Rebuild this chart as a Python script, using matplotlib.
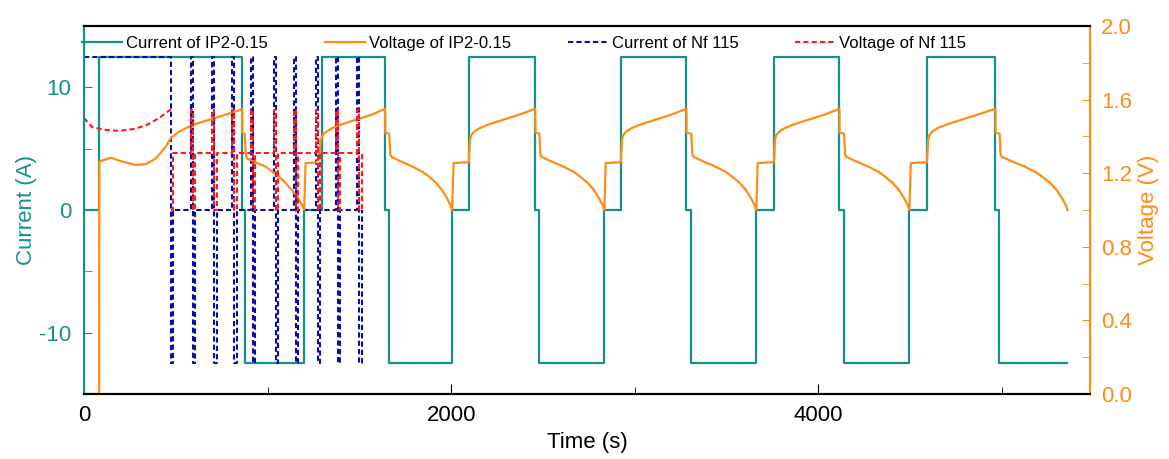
import matplotlib
matplotlib.use("Agg")
import matplotlib.pyplot as plt
from matplotlib.ticker import MultipleLocator, FormatStrFormatter

plt.rcParams['font.family'] = ['Liberation Sans', 'DejaVu Sans']
plt.rcParams['axes.unicode_minus'] = False

# IP2-0.15 current (step changes: time s, current A)
ip2_i_t = [0, 82, 861, 877, 1199, 1295, 1640, 1662, 2005, 2098, 2458, 2480, 2834,
           2926, 3281, 3308, 3662, 3760, 4115, 4140, 4496, 4594, 4965, 4987, 5357]
ip2_i = [0, 12.5, 0, -12.5, 0, 12.5, 0, -12.5, 0, 12.5, 0, -12.5, 0,
         12.5, 0, -12.5, 0, 12.5, 0, -12.5, 0, 12.5, 0, -12.5, -12.5]

# IP2-0.15 voltage (time s, voltage V), one line per charge / discharge part
ip2_v_t = [0, 82, 83, 145, 209, 281, 336, 391, 445, 472, 518, 590, 736, 861,
           862, 875, 881, 887, 990, 1063, 1099, 1135, 1163, 1186, 1199,
           1207, 1265, 1280, 1289, 1299, 1305, 1323, 1350, 1404, 1477, 1568, 1640,
           1641, 1662, 1668, 1677, 1717, 1789, 1844, 1880, 1916, 1950, 1978, 1996, 2005,
           2013, 2096, 2102, 2108, 2126, 2153, 2207, 2280, 2371, 2458,
           2459, 2480, 2486, 2495, 2537, 2611, 2668, 2703, 2742, 2777, 2806, 2825, 2834,
           2842, 2924, 2930, 2936, 2954, 2981, 3035, 3108, 3199, 3281,
           3282, 3308, 3314, 3323, 3365, 3439, 3496, 3531, 3570, 3605, 3634, 3653, 3662,
           3670, 3758, 3764, 3770, 3788, 3815, 3869, 3942, 4033, 4115,
           4116, 4140, 4146, 4155, 4197, 4272, 4329, 4364, 4403, 4439, 4468, 4487, 4496,
           4504, 4592, 4598, 4604, 4622, 4649, 4703, 4776, 4867, 4965,
           4966, 4987, 4993, 5002, 5046, 5124, 5183, 5220, 5261, 5298, 5328, 5348, 5357]
ip2_v = [0, 0, 1.263, 1.284, 1.263, 1.245, 1.249, 1.28, 1.344, 1.39, 1.426, 1.462, 1.507, 1.547,
         1.42, 1.415, 1.30, 1.28, 1.235, 1.181, 1.145, 1.105, 1.07, 1.03, 1.0,
         1.255, 1.258, 1.28, 1.38, 1.405, 1.415, 1.426, 1.444, 1.466, 1.489, 1.518, 1.55,
         1.42, 1.415, 1.30, 1.288, 1.268, 1.236, 1.207, 1.181, 1.149, 1.109, 1.063, 1.027, 1.0,
         1.255, 1.26, 1.38, 1.405, 1.426, 1.444, 1.466, 1.489, 1.518, 1.55,
         1.42, 1.415, 1.30, 1.288, 1.268, 1.236, 1.207, 1.181, 1.149, 1.109, 1.063, 1.027, 1.0,
         1.255, 1.26, 1.38, 1.405, 1.426, 1.444, 1.466, 1.489, 1.518, 1.55,
         1.42, 1.415, 1.30, 1.288, 1.268, 1.236, 1.207, 1.181, 1.149, 1.109, 1.063, 1.027, 1.0,
         1.255, 1.26, 1.38, 1.405, 1.426, 1.444, 1.466, 1.489, 1.518, 1.55,
         1.42, 1.415, 1.30, 1.288, 1.268, 1.236, 1.207, 1.181, 1.149, 1.109, 1.063, 1.027, 1.0,
         1.255, 1.26, 1.38, 1.405, 1.426, 1.444, 1.466, 1.489, 1.518, 1.55,
         1.42, 1.415, 1.30, 1.288, 1.268, 1.236, 1.207, 1.181, 1.149, 1.109, 1.063, 1.027, 1.0]

# Nf 115 current (step changes: time s, current A)
nf_i_t = [0, 474, 486,
          583, 595, 607, 698, 710, 722, 807, 819, 831, 910, 922, 934,
          1035, 1047, 1059, 1144, 1156, 1168, 1264, 1276, 1288,
          1373, 1385, 1397, 1488, 1500, 1512, 1515]
nf_i = [12.5, -12.5, 0,
        12.5, -12.5, 0, 12.5, -12.5, 0, 12.5, -12.5, 0, 12.5, -12.5, 0,
        12.5, -12.5, 0, 12.5, -12.5, 0, 12.5, -12.5, 0,
        12.5, -12.5, 0, 12.5, -12.5, 0, 0]

# Nf 115 voltage: first charge curve, then step changes
nf_v0_t = [0, 44, 120, 191, 270, 338, 409, 463, 474]
nf_v0 = [1.50, 1.45, 1.435, 1.43, 1.44, 1.46, 1.50, 1.54, 1.545]
nf_v_t = [474, 486,
          583, 595, 607, 698, 710, 722, 807, 819, 831, 910, 922, 934,
          1035, 1047, 1059, 1144, 1156, 1168, 1264, 1276, 1288,
          1373, 1385, 1397, 1488, 1500, 1512, 1515]
nf_v = [1.00, 1.31,
        1.545, 1.00, 1.31, 1.545, 1.00, 1.31, 1.545, 1.00, 1.31, 1.545, 1.00, 1.31,
        1.545, 1.00, 1.31, 1.545, 1.00, 1.31, 1.545, 1.00, 1.31,
        1.545, 1.00, 1.31, 1.545, 1.00, 1.31, 1.31]

teal = '#15918b'
orange = '#ff8c14'
navy = '#0a0aa8'
red = '#ff1a1a'
dash = (0, (2.5, 1.5))

fig = plt.figure(figsize=(11.69, 4.59), dpi=100)
ax = fig.add_axes([0.0719, 0.1416, 0.8605, 0.8018])
ax2 = ax.twinx()

l1, = ax.step(ip2_i_t, ip2_i, where='post', color=teal, lw=1.6, label='Current of IP2-0.15')
l3, = ax.step(nf_i_t, nf_i, where='post', color=navy, lw=1.5, ls=dash,
              label='Current of Nf 115')
l2, = ax2.plot(ip2_v_t, ip2_v, color=orange, lw=1.6, label='Voltage of IP2-0.15')
ax2.plot(nf_v0_t, nf_v0, color=red, lw=1.5, ls=dash)
l4, = ax2.step(nf_v_t, nf_v, where='post', color=red, lw=1.5, ls=dash,
               label='Voltage of Nf 115')

ax.set_xlim(0, 5480)
ax.set_ylim(-15, 15)
ax2.set_ylim(0, 2.0)

ax.xaxis.set_major_locator(MultipleLocator(2000))
ax.xaxis.set_minor_locator(MultipleLocator(1000))
ax.yaxis.set_major_locator(MultipleLocator(10))
ax.yaxis.set_minor_locator(MultipleLocator(5))
ax2.yaxis.set_major_locator(MultipleLocator(0.4))
ax2.yaxis.set_minor_locator(MultipleLocator(0.2))
ax2.yaxis.set_major_formatter(FormatStrFormatter('%.1f'))

ax.tick_params(axis='x', which='both', direction='in', top=False, labelsize=16, pad=8)
ax.tick_params(axis='x', which='major', length=7)
ax.tick_params(axis='x', which='minor', length=5)
ax.tick_params(axis='y', which='both', direction='in', colors=teal, labelsize=16,
               length=6, pad=9)
ax2.tick_params(axis='y', which='both', direction='in', colors=orange, labelsize=16,
                length=6, pad=8)

for a in (ax, ax2):
    for s in a.spines.values():
        s.set_linewidth(1.5)
    a.spines['left'].set_color(teal)
    a.spines['right'].set_color(orange)

ax.set_xlabel('Time (s)', fontsize=16, labelpad=4)
ax.set_ylabel('Current (A)', fontsize=16, color=teal, labelpad=2)
ax2.set_ylabel('Voltage (V)', fontsize=16, color=orange, labelpad=4)

ax2.legend(handles=[l1, l2, l3, l4], loc='upper left', bbox_to_anchor=(-0.002, 0.974),
           ncol=4, frameon=False, fontsize=12, handlelength=2.4, handletextpad=0.25,
           columnspacing=3.4, borderpad=0, borderaxespad=0)

fig.savefig('out.png', dpi=100)
